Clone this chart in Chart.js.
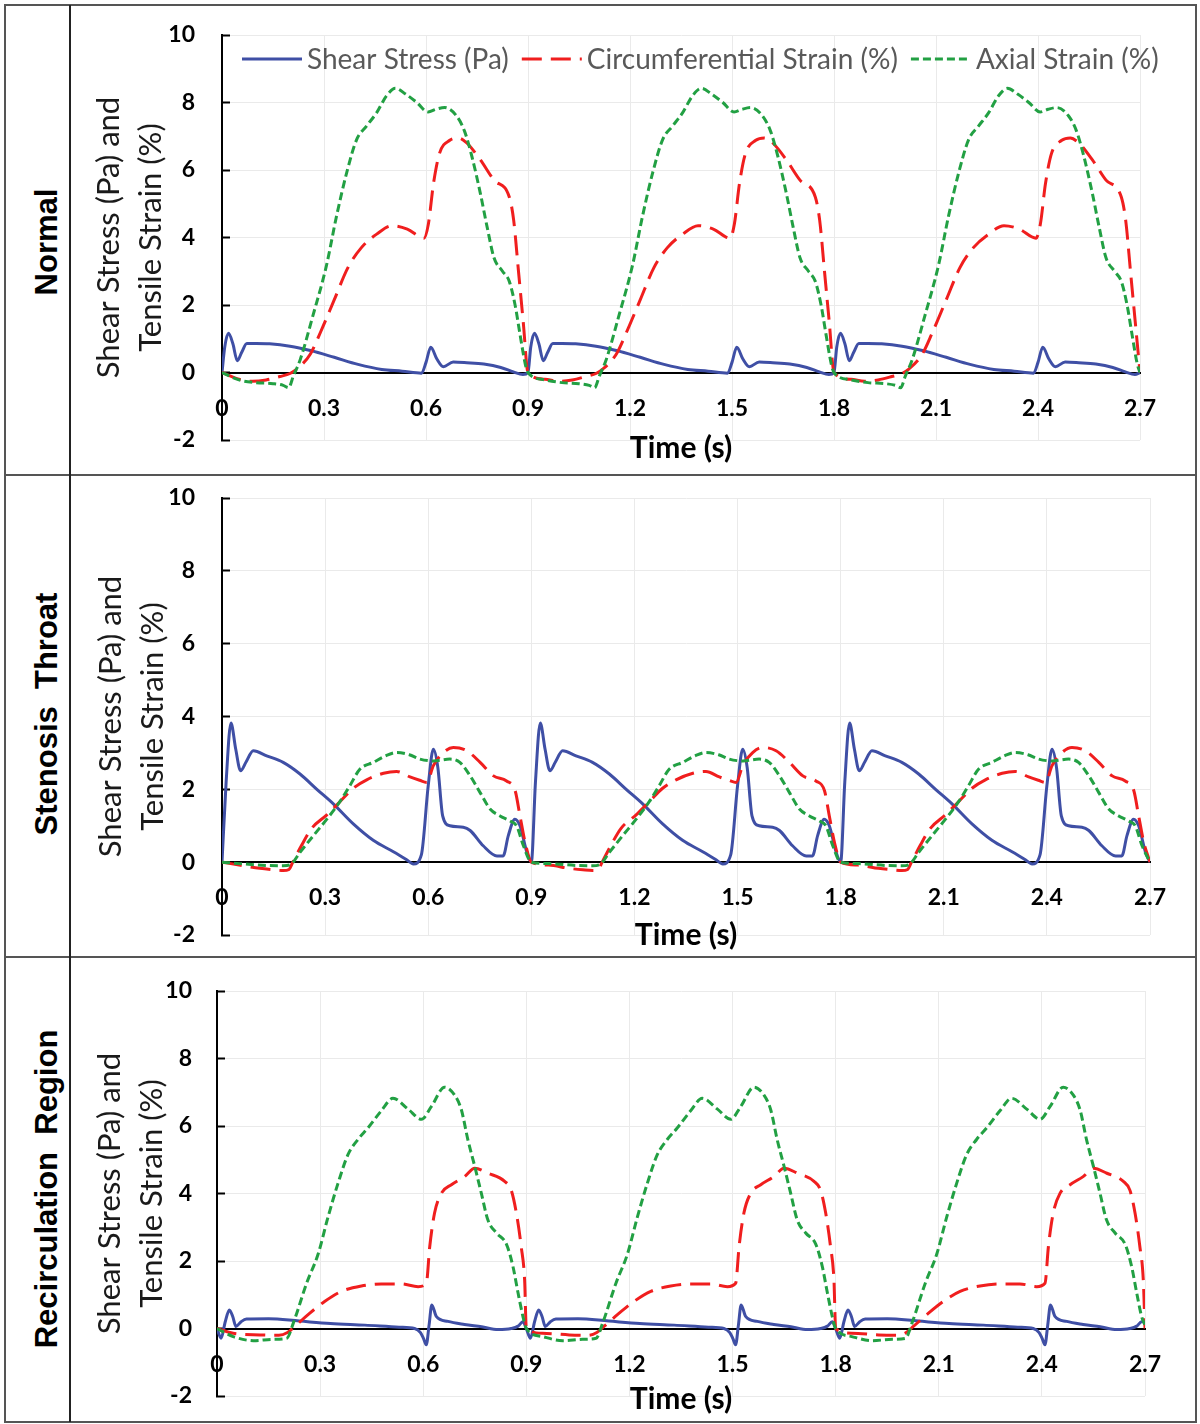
<!DOCTYPE html>
<html><head><meta charset="utf-8">
<script src="https://cdn.jsdelivr.net/npm/chart.js@4.4.1/dist/chart.umd.min.js"></script>
<style>
html,body{margin:0;padding:0;background:#fff;}
body{width:1200px;height:1424px;position:relative;overflow:hidden;}
canvas{position:absolute;left:0;}
.frame{position:absolute;left:4px;top:4px;width:1189px;height:1415px;border:2px solid #555;box-sizing:content-box;}
.hline{position:absolute;left:4px;width:1193px;height:2px;background:#555;}
.vline{position:absolute;left:69px;top:5px;width:2px;height:1417px;background:#222;}
.rowlabel{position:absolute;left:46px;transform:translate(-50%,-50%) rotate(-90deg);font:bold 31px "Liberation Sans",Arial,sans-serif;white-space:pre;color:#000;line-height:1;}
</style></head><body>
<div class="frame"></div>
<div class="hline" style="top:474px"></div>
<div class="hline" style="top:956px"></div>
<div class="vline"></div>
<div class="rowlabel" style="top:242px">Normal</div>
<div class="rowlabel" style="top:714px">Stenosis  Throat</div>
<div class="rowlabel" style="top:1189px">Recirculation  Region</div>
<canvas id="c1"></canvas>
<canvas id="c2"></canvas>
<canvas id="c3"></canvas>
<script>
// ---------- DATA (one cardiac cycle of 0.9 s) ----------
const cycleStarts = [0, 0.9, 1.8];
const xTickStep = 0.3, xMin = 0, xMax = 2.7;
const yTickStep = 2, yMin = -2, yMax = 10;
const seriesLabels = ['Shear Stress (Pa)', 'Circumferential Strain (%)', 'Axial Strain (%)'];

// Normal
const normalShearTime = [0, 0.008, 0.019, 0.032, 0.045, 0.058, 0.073, 0.1, 0.14, 0.2, 0.26, 0.33, 0.4, 0.47, 0.53, 0.587, 0.6, 0.614, 0.632, 0.651, 0.68, 0.72, 0.77, 0.82, 0.857, 0.885];
const normalShear     = [0, 0.75, 1.16, 0.85, 0.35, 0.6, 0.86, 0.86, 0.85, 0.78, 0.65, 0.45, 0.24, 0.09, 0.04, -0.02, 0.3, 0.75, 0.4, 0.17, 0.31, 0.29, 0.25, 0.15, 0.02, -0.06];
const normalCircTime  = [0, 0.05, 0.09, 0.13, 0.17, 0.2, 0.22, 0.26, 0.29, 0.33, 0.37, 0.41, 0.455, 0.5, 0.545, 0.594, 0.607, 0.622, 0.64, 0.67, 0.695, 0.72, 0.76, 0.8, 0.845, 0.858, 0.872, 0.886];
const normalCirc      = [0, -0.2, -0.26, -0.22, -0.12, -0.03, 0.1, 0.55, 1.2, 2.15, 3.1, 3.7, 4.1, 4.35, 4.25, 3.98, 4.4, 5.6, 6.5, 6.88, 6.95, 6.8, 6.3, 5.7, 5.2, 4.5, 3.0, 1.5];
const normalAxialTime = [0, 0.05, 0.1, 0.15, 0.18, 0.196, 0.21, 0.23, 0.267, 0.307, 0.337, 0.367, 0.396, 0.425, 0.455, 0.484, 0.51, 0.54, 0.573, 0.606, 0.63, 0.655, 0.69, 0.713, 0.735, 0.76, 0.78, 0.8, 0.825, 0.845, 0.862, 0.877, 0.892];
const normalAxial     = [0, -0.22, -0.3, -0.33, -0.38, -0.45, -0.1, 0.38, 1.67, 3.16, 4.64, 5.93, 6.9, 7.3, 7.7, 8.2, 8.42, 8.25, 8.0, 7.72, 7.8, 7.85, 7.6, 7.16, 6.4, 5.3, 4.3, 3.4, 3.0, 2.7, 2.0, 1.1, 0.25];
const normalEnd = [0, 0, 0];

// Stenosis throat
const stenShearTime = [0, 0.012, 0.026, 0.04, 0.054, 0.07, 0.091, 0.13, 0.178, 0.227, 0.276, 0.324, 0.382, 0.44, 0.5, 0.535, 0.557, 0.58, 0.6, 0.615, 0.628, 0.642, 0.663, 0.702, 0.722, 0.76, 0.8, 0.818, 0.833, 0.852, 0.867, 0.887];
const stenShear     = [0, 2.2, 3.82, 3.1, 2.51, 2.75, 3.06, 2.92, 2.74, 2.42, 2.0, 1.6, 1.05, 0.6, 0.28, 0.08, -0.05, 0.2, 2.1, 3.1, 2.6, 1.27, 1.0, 0.96, 0.87, 0.45, 0.17, 0.17, 0.73, 1.18, 1.0, 0.27];
const stenCircTime  = [0, 0.05, 0.11, 0.15, 0.178, 0.195, 0.205, 0.232, 0.261, 0.305, 0.343, 0.382, 0.421, 0.47, 0.508, 0.547, 0.575, 0.596, 0.615, 0.644, 0.673, 0.712, 0.751, 0.79, 0.828, 0.853, 0.867, 0.882];
const stenCirc      = [0, -0.08, -0.17, -0.21, -0.23, -0.2, -0.02, 0.47, 0.93, 1.3, 1.66, 2.03, 2.26, 2.44, 2.49, 2.34, 2.25, 2.19, 2.65, 3.01, 3.15, 3.06, 2.74, 2.37, 2.23, 1.96, 1.27, 0.54];
const stenAxialTime = [0, 0.052, 0.13, 0.178, 0.2, 0.227, 0.266, 0.305, 0.343, 0.372, 0.401, 0.44, 0.479, 0.508, 0.545, 0.576, 0.615, 0.663, 0.692, 0.722, 0.751, 0.78, 0.809, 0.838, 0.857, 0.877];
const stenAxial     = [0, -0.04, -0.09, -0.1, -0.06, 0.27, 0.73, 1.18, 1.66, 2.1, 2.55, 2.74, 2.93, 3.01, 2.95, 2.83, 2.78, 2.83, 2.74, 2.37, 1.91, 1.46, 1.27, 1.13, 1.0, 0.45];
const stenEnd = [0, 0, 0];

// Recirculation region
const recShearTime = [0, 0.012, 0.024, 0.036, 0.046, 0.055, 0.07, 0.086, 0.15, 0.24, 0.33, 0.43, 0.53, 0.575, 0.592, 0.601, 0.609, 0.617, 0.625, 0.638, 0.672, 0.72, 0.77, 0.818, 0.856, 0.876, 0.89];
const recShear     = [0, -0.29, 0.2, 0.55, 0.35, 0.06, 0.2, 0.28, 0.29, 0.22, 0.15, 0.1, 0.04, 0.0, -0.12, -0.3, -0.48, 0.1, 0.7, 0.36, 0.21, 0.12, 0.05, -0.03, 0.0, 0.07, 0.2];
const recCircTime  = [0, 0.047, 0.125, 0.18, 0.205, 0.226, 0.265, 0.313, 0.362, 0.42, 0.478, 0.536, 0.585, 0.609, 0.619, 0.633, 0.653, 0.682, 0.72, 0.75, 0.789, 0.837, 0.856, 0.871, 0.885, 0.895];
const recCirc      = [0, -0.14, -0.19, -0.2, -0.12, 0.06, 0.41, 0.8, 1.1, 1.26, 1.32, 1.32, 1.24, 1.34, 2.43, 3.42, 4.01, 4.26, 4.5, 4.75, 4.6, 4.36, 4.1, 3.42, 2.43, 1.44];
const recAxialTime = [0, 0.047, 0.106, 0.164, 0.203, 0.222, 0.261, 0.294, 0.323, 0.352, 0.381, 0.41, 0.439, 0.478, 0.512, 0.556, 0.595, 0.624, 0.662, 0.691, 0.711, 0.73, 0.75, 0.769, 0.788, 0.813, 0.842, 0.861, 0.876, 0.89];
const recAxial     = [0, -0.24, -0.36, -0.32, -0.29, 0.16, 1.35, 2.2, 3.3, 4.3, 5.15, 5.6, 5.94, 6.45, 6.82, 6.5, 6.2, 6.58, 7.15, 6.92, 6.48, 5.59, 4.8, 4.01, 3.22, 2.83, 2.5, 1.84, 1.05, 0.36];
const recEnd = [0.2, 0, 0.1];

// ---------- build ----------
function tile(times, values, endValue) {
  const pts = [];
  cycleStarts.forEach(s => times.forEach((t, i) => pts.push({x: Math.round((s + t) * 10000) / 10000, y: values[i]})));
  pts.push({x: xMax, y: endValue});
  return pts;
}

const BLUE = '#3f4fa5', RED = '#f01e1e', GREEN = '#22a043';
const GRID = '#eaeaea';

const legendPlugin = {
  id: 'insideLegend',
  afterDraw(chart, args, opts) {
    const ctx = chart.ctx;
    const dss = chart.data.datasets;
    ctx.save();
    ctx.font = '100px Lato';
    let tot = 0;
    dss.forEach(d => tot += ctx.measureText(d.label).width);
    const size = Math.round(opts.targetWidth * 100 / tot * 2) / 2;
    ctx.font = size + 'px Lato';
    ctx.textBaseline = 'middle';
    ctx.textAlign = 'left';
    let x = opts.x;
    const y = opts.y;
    dss.forEach(d => {
      ctx.strokeStyle = d.borderColor;
      ctx.lineWidth = d.borderWidth;
      ctx.setLineDash(d.borderDash || []);
      ctx.beginPath(); ctx.moveTo(x, y); ctx.lineTo(x + 60, y); ctx.stroke();
      ctx.setLineDash([]);
      ctx.fillStyle = '#595959';
      ctx.fillText(d.label, x + 65, y + 1);
      x += 65 + ctx.measureText(d.label).width + 13;
    });
    ctx.restore();
  }
};

function makeChart(id, p, series, ends, legend) {
  const cv = document.getElementById(id);
  const H = p.B - p.T;
  cv.width = 1200; cv.height = H;
  cv.style.top = p.T + 'px';
  const tickFont = {family: 'Lato', weight: 'bold', size: 23};
  return new Chart(cv, {
    type: 'line',
    data: {datasets: [
      {label: seriesLabels[0], data: tile(series[0][0], series[0][1], ends[0]), borderColor: BLUE, borderWidth: 3, order: 3},
      {label: seriesLabels[1], data: tile(series[1][0], series[1][1], ends[1]), borderColor: RED, borderWidth: 3, borderDash: [20, 9], order: 2},
      {label: seriesLabels[2], data: tile(series[2][0], series[2][1], ends[2]), borderColor: GREEN, borderWidth: 3, borderDash: [8, 4], order: 1}
    ]},
    options: {
      responsive: false, animation: false, devicePixelRatio: 1,
      layout: {padding: {left: 0, right: 1200 - p.R, top: p.PT - p.T, bottom: 0}},
      elements: {point: {radius: 0}, line: {cubicInterpolationMode: 'monotone', borderJoinStyle: 'round', fill: false}},
      plugins: {legend: {display: false}, tooltip: {enabled: false},
        insideLegend: legend ? {x: 242, y: 59 - p.T, targetWidth: 697} : false},
      scales: {
        x: {type: 'linear', min: xMin, max: xMax, position: {y: 0},
          ticks: {stepSize: xTickStep, autoSkip: false, maxRotation: 0, padding: 22, font: tickFont, color: '#000'},
          grid: {color: GRID, lineWidth: 1, drawTicks: false},
          border: {color: '#000', width: 2},
          afterFit: s => { s.paddingLeft = 0; s.paddingRight = 0; }},
        x2: {type: 'linear', min: xMin, max: xMax, position: 'bottom',
          ticks: {display: false}, grid: {display: false, z: 2}, border: {display: false},
          title: {display: true, text: 'Time (s)', color: '#000', font: {family: 'Lato', weight: 'bold', size: 30, lineHeight: 1.2}, padding: {top: 0, bottom: p.titlePad}},
          afterFit: s => { s.height = p.B - p.PB; s.paddingLeft = 0; s.paddingRight = 0; }},
        y: {type: 'linear', min: yMin, max: yMax, position: 'left',
          ticks: {stepSize: yTickStep, padding: p.L + 8 - p.tickRight, font: tickFont, color: '#000'},
          grid: {color: GRID, lineWidth: 1, tickColor: '#000', tickLength: -8, tickWidth: 2},
          border: {color: '#000', width: 2},
          title: {display: true, text: ['Shear Stress (Pa) and', 'Tensile Strain (%)'], color: '#1a1a1a', font: {family: 'Lato', size: 31, lineHeight: '42px'}, padding: {top: p.yTitle - 21, bottom: 0}},
          afterFit: s => { s.width = p.L; s.paddingTop = 0; s.paddingBottom = 0; }}
      }
    },
    plugins: legend ? [legendPlugin] : []
  });
}

makeChart('c1', {T: 6, B: 474, L: 222, R: 1140, PT: 35, PB: 440, titlePad: 8, tickRight: 195, yTitle: 108.5},
  [[normalShearTime, normalShear], [normalCircTime, normalCirc], [normalAxialTime, normalAxial]], normalEnd, true);
makeChart('c2', {T: 476, B: 956, L: 222, R: 1150, PT: 498, PB: 935, titlePad: 3, tickRight: 195, yTitle: 111},
  [[stenShearTime, stenShear], [stenCircTime, stenCirc], [stenAxialTime, stenAxial]], stenEnd, false);
makeChart('c3', {T: 958, B: 1420, L: 217, R: 1145, PT: 991, PB: 1396, titlePad: 3, tickRight: 192, yTitle: 110},
  [[recShearTime, recShear], [recCircTime, recCirc], [recAxialTime, recAxial]], recEnd, false);
</script>
</body></html>
